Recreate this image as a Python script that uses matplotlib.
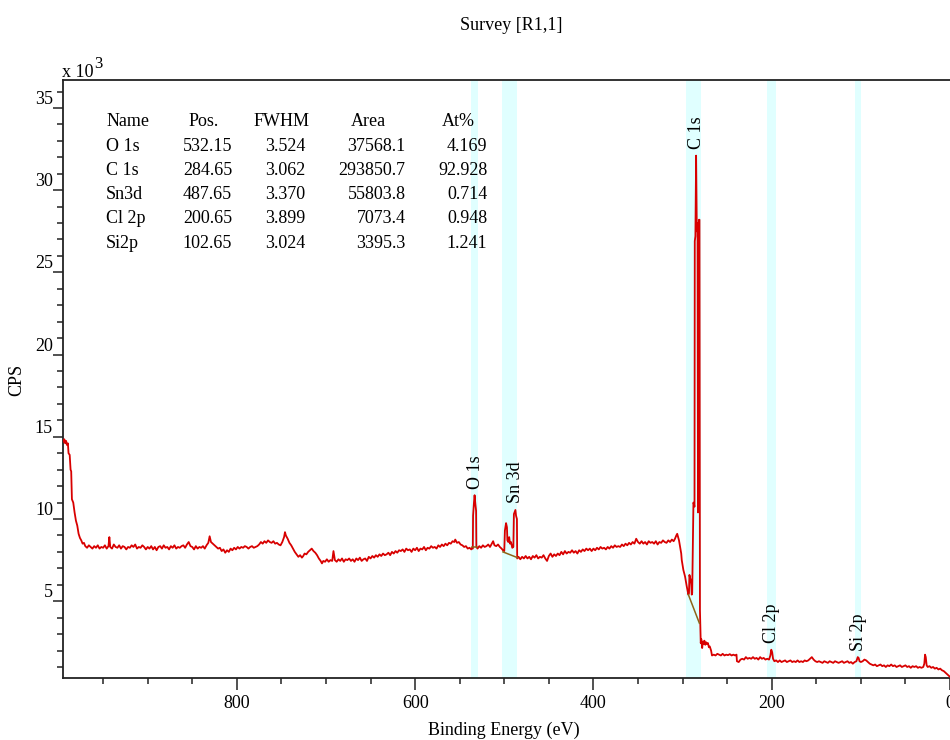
import numpy as np
import matplotlib
matplotlib.use("Agg")
import matplotlib.pyplot as plt
from matplotlib.ticker import MultipleLocator

plt.rcParams['font.family'] = ['Liberation Serif', 'DejaVu Serif']
plt.rcParams['font.size'] = 13

# Survey spectrum: (binding energy in eV, counts per second in units of 1e3)
survey = [
    (994.5, 14.7), (993.5, 14.85), (992.5, 14.6), (991.5, 14.75), (990.5, 14.5),
    (989.5, 14.6), (988.8, 14.0), (987.5, 13.9), (986.5, 13.0), (985.8, 12.9),
    (985.0, 11.2), (983.5, 11.0), (982.0, 10.4), (980.5, 9.9), (979.0, 9.6),
    (977.5, 9.1), (976.0, 8.85), (974.5, 8.7), (973.0, 8.5), (971.5, 8.55),
    (970, 8.35), (968, 8.25), (966, 8.4), (964, 8.3), (962, 8.2), (960, 8.35),
    (958, 8.25), (956, 8.4), (954, 8.2), (952, 8.3), (950, 8.25), (948, 8.4),
    (946, 8.2), (944, 8.35), (943, 8.9), (942, 8.3), (940, 8.2), (938, 8.45),
    (936, 8.3), (934, 8.25), (932, 8.4), (930, 8.2), (928, 8.35), (926, 8.3),
    (924, 8.15), (922, 8.3), (920, 8.25), (918, 8.4), (916, 8.3), (914, 8.45),
    (912, 8.2), (910, 8.3), (908, 8.25), (906, 8.4), (904, 8.3), (902, 8.15),
    (900, 8.3), (898, 8.2), (896, 8.35), (894, 8.15), (892, 8.3), (890, 8.1),
    (888, 8.3), (886, 8.35), (884, 8.2), (882, 8.4), (880, 8.25), (878, 8.3),
    (876, 8.15), (874, 8.35), (872, 8.25), (870, 8.4), (868, 8.2), (866, 8.3),
    (864, 8.25), (862, 8.35), (860, 8.4), (858, 8.25), (856, 8.45), (854, 8.6),
    (852, 8.35), (850, 8.3), (848, 8.15), (846, 8.35), (844, 8.2), (842, 8.3),
    (840, 8.25), (838, 8.35), (836, 8.2), (834, 8.4), (832, 8.55), (830.5, 8.95),
    (829, 8.6), (827, 8.5), (825, 8.4), (823, 8.3), (821, 8.2), (819, 8.25),
    (817, 8.05), (815, 8.15), (813, 7.95), (811, 8.1), (809, 8.0), (807, 8.2),
    (805, 8.1), (803, 8.25), (801, 8.15), (799, 8.3), (797, 8.2), (795, 8.3),
    (793, 8.25), (791, 8.35), (789, 8.3), (787, 8.2), (785, 8.3), (783, 8.35),
    (781, 8.25), (779, 8.3), (777, 8.35), (775, 8.45), (773, 8.6), (771, 8.5),
    (769, 8.65), (767, 8.55), (765, 8.7), (763, 8.6), (761, 8.55), (759, 8.65),
    (757, 8.5), (755, 8.55), (753, 8.45), (751, 8.4), (749, 8.6), (747, 8.9),
    (746, 9.2), (745, 9.0), (743, 8.8), (741, 8.55), (739, 8.4), (737, 8.2),
    (735, 8.0), (733, 7.85), (731, 7.7), (729, 7.8), (727, 7.65), (725.5, 7.75),
    (724, 7.9), (722, 7.85), (720, 8.0), (718, 8.1), (716, 8.2), (714, 8.05),
    (712, 7.95), (710, 7.8), (708, 7.6), (706, 7.45), (704.5, 7.3), (703, 7.45),
    (701, 7.4), (699, 7.55), (697, 7.4), (695, 7.5), (693, 7.45), (691.6, 8.05),
    (690, 7.5), (688, 7.4), (686, 7.55), (684, 7.45), (682, 7.6), (680, 7.4),
    (678, 7.55), (676, 7.5), (674, 7.6), (672, 7.45), (670, 7.55), (668, 7.4),
    (666, 7.6), (664, 7.5), (662, 7.65), (660, 7.45), (658, 7.55), (656, 7.6),
    (654, 7.45), (652, 7.7), (650, 7.6), (648, 7.75), (646, 7.65), (644, 7.8),
    (642, 7.7), (640, 7.85), (638, 7.75), (636, 7.9), (634, 7.8), (632, 7.85),
    (630, 7.95), (628, 7.8), (626, 8.0), (624, 7.9), (622, 8.05), (620, 7.95),
    (618, 8.1), (616, 8.05), (614, 8.15), (612, 8.0), (610, 8.2), (608, 8.1),
    (606, 8.15), (604, 8.0), (602, 8.2), (600, 8.1), (598, 8.25), (596, 8.05),
    (594, 8.2), (592, 8.15), (590, 8.3), (588, 8.1), (586, 8.25), (584, 8.2),
    (582, 8.35), (580, 8.25), (578, 8.3), (576, 8.2), (574, 8.4), (572, 8.3),
    (570, 8.45), (568, 8.35), (566, 8.5), (564, 8.4), (562, 8.55), (560, 8.5),
    (558, 8.65), (556, 8.6), (555, 8.75), (553, 8.55), (551, 8.6), (549, 8.45),
    (547, 8.4), (545, 8.3), (543, 8.35), (541, 8.2), (539, 8.25), (537, 8.15),
    (536.0, 8.25), (535.3, 8.2), (535.0, 10.2), (534.0, 11.0), (533.3, 11.45),
    (532.4, 10.9), (531.6, 10.5), (531.3, 8.3), (530, 8.2), (528, 8.35),
    (526, 8.25), (524, 8.4), (522, 8.3), (520, 8.35), (518, 8.45), (516, 8.3),
    (514, 8.5), (512.5, 8.65), (511, 8.4), (509, 8.35), (507, 8.45), (505, 8.3),
    (503, 8.2), (501.5, 8.1), (500, 8.05), (499.3, 9.3), (498.0, 9.75),
    (497.0, 9.5), (496.5, 8.7), (495.5, 8.6), (494.5, 8.9), (493.5, 8.5),
    (492.5, 8.6), (491, 8.25), (489.8, 8.3), (489.2, 10.3), (487.5, 10.55),
    (486.8, 10.2), (485.8, 10.0), (485.5, 7.6), (484, 7.7), (482, 7.55),
    (480, 7.7), (478, 7.6), (476, 7.75), (474, 7.6), (472, 7.7), (470, 7.55),
    (468, 7.75), (466, 7.65), (464, 7.8), (462, 7.6), (460, 7.7), (458, 7.65),
    (456, 7.8), (454, 7.6), (452, 7.45), (450, 7.75), (448, 7.9), (446, 7.7),
    (444, 7.85), (442, 7.75), (440, 7.9), (438, 7.8), (436, 8.0), (434, 7.85),
    (432, 8.05), (430, 7.9), (428, 8.0), (426, 7.95), (424, 8.1), (422, 7.95),
    (420, 8.05), (418, 7.9), (416, 8.1), (414, 8.0), (412, 8.15), (410, 8.05),
    (408, 8.2), (406, 8.1), (404, 8.2), (402, 8.05), (400, 8.2), (398, 8.1),
    (396, 8.25), (394, 8.15), (392, 8.3), (390, 8.2), (388, 8.25), (386, 8.15),
    (384, 8.3), (382, 8.2), (380, 8.35), (378, 8.25), (376, 8.4), (374, 8.3),
    (372, 8.35), (370, 8.3), (368, 8.45), (366, 8.35), (364, 8.5), (362, 8.4),
    (360, 8.55), (358, 8.45), (356, 8.6), (354, 8.5), (352, 8.8), (350, 8.6),
    (348, 8.5), (346, 8.65), (344, 8.5), (342, 8.6), (340, 8.45), (338, 8.65),
    (336, 8.55), (334, 8.6), (332, 8.5), (330, 8.65), (328, 8.45), (326, 8.6),
    (324, 8.55), (322, 8.7), (320, 8.6), (318, 8.55), (316, 8.7), (314, 8.6),
    (312, 8.75), (310, 8.65), (308.5, 8.8), (307, 9.0), (306, 9.1), (305, 8.9),
    (304, 8.7), (302.8, 8.3), (301.5, 7.9), (300.9, 7.5), (299.1, 6.9),
    (297.2, 6.5), (295.3, 5.9), (293.5, 5.4), (292.8, 5.5), (292.3, 6.6),
    (291.5, 6.4), (290.8, 6.3), (290.2, 6.0), (289.7, 5.4), (289.2, 5.5),
    (288.6, 7.8), (287.8, 11.0), (286.6, 10.75), (286.3, 26.9), (285.6, 27.2),
    (284.8, 32.1), (284.0, 27.5), (283.2, 28.0), (282.7, 10.4), (282.2, 10.5),
    (281.7, 28.2), (281.0, 28.2), (280.5, 4.45), (279.6, 2.45), (279.0, 2.7),
    (278.0, 2.15), (277.2, 2.55), (276.5, 2.4), (275.5, 2.6), (274.5, 2.35),
    (273.5, 2.5), (272.5, 2.4), (271.5, 2.45), (270.5, 2.2), (269.5, 2.25),
    (268, 2.0), (267, 1.7), (265, 1.75), (263, 1.7), (261, 1.8), (259, 1.75),
    (257, 1.7), (255, 1.8), (253, 1.7), (251, 1.75), (249, 1.72), (247, 1.78),
    (245, 1.7), (243, 1.75), (241, 1.7), (239.5, 1.75), (239, 1.35),
    (237, 1.3), (235, 1.45), (233, 1.5), (231, 1.45), (229, 1.6), (227, 1.5),
    (225, 1.55), (223, 1.5), (221, 1.6), (219, 1.5), (217, 1.55), (215, 1.45),
    (213, 1.6), (211, 1.5), (209, 1.55), (207, 1.45), (205, 1.5), (203, 1.45),
    (201.5, 1.7), (200.5, 2.05), (199.5, 1.9), (198.5, 1.5), (197, 1.35),
    (195, 1.4), (193, 1.3), (191, 1.4), (189, 1.3), (187, 1.35), (185, 1.4),
    (183, 1.3), (181, 1.35), (179, 1.4), (177, 1.3), (175, 1.35), (173, 1.3),
    (171, 1.4), (169, 1.3), (167, 1.35), (165, 1.3), (163, 1.4), (161, 1.35),
    (159, 1.4), (157, 1.5), (155, 1.6), (153, 1.45), (151, 1.35), (149, 1.3),
    (147, 1.35), (145, 1.3), (143, 1.25), (141, 1.35), (139, 1.3), (137, 1.25),
    (135, 1.35), (133, 1.3), (131, 1.25), (129, 1.35), (127, 1.3), (125, 1.25),
    (123, 1.3), (121, 1.35), (119, 1.25), (117, 1.3), (115, 1.35), (113, 1.25),
    (111, 1.3), (109, 1.2), (107, 1.3), (105, 1.35), (103.5, 1.6), (102.5, 1.55),
    (101.5, 1.35), (100, 1.3), (98, 1.35), (96, 1.45), (94, 1.4), (92, 1.3),
    (90, 1.2), (88, 1.15), (86, 1.1), (84, 1.15), (82, 1.05), (80, 1.1),
    (78, 1.15), (76, 1.05), (74, 1.1), (72, 1.0), (70, 1.1), (68, 1.05),
    (66, 1.15), (64, 1.05), (62, 1.1), (60, 1.0), (58, 1.05), (56, 1.1),
    (54, 1.0), (52, 1.05), (50, 1.1), (48, 1.0), (46, 1.05), (44, 0.95),
    (42, 1.05), (40, 1.0), (38, 1.05), (36, 0.95), (34, 1.0), (32, 0.95),
    (30, 1.0), (28.8, 1.2), (28.0, 1.75), (27.2, 1.6), (26.2, 1.1), (25, 1.0),
    (23, 1.05), (21, 0.95), (19, 1.0), (17, 0.9), (15, 0.95), (13, 0.85),
    (11, 0.9), (9, 0.8), (7, 0.75), (5, 0.65), (3, 0.55), (1, 0.45), (0, 0.4),
]

# Quantification table
comp_names = ["O 1s", "C 1s", "Sn3d", "Cl 2p", "Si2p"]
comp_pos = [532.15, 284.65, 487.65, 200.65, 102.65]
comp_fwhm = [3.524, 3.062, 3.370, 3.899, 3.024]
comp_area = [37568.1, 293850.7, 55803.8, 7073.4, 3395.3]
comp_atpct = [4.169, 92.928, 0.714, 0.948, 1.241]

# Peak annotations and integration regions (eV)
peak_labels = ["O 1s", "C 1s", "Sn 3d", "Cl 2p", "Si 2p"]
region_hi = [537.2, 296.1, 502.4, 205.2, 106.5]
region_lo = [529.3, 279.3, 485.6, 195.1, 99.8]

# Shirley backgrounds drawn under the main peaks: (start eV, start cps, end eV, end cps)
bg_lines = [
    (536.3, 8.3, 530.2, 8.3),
    (501.5, 8.0, 485.2, 7.65),
    (293.5, 5.4, 281.1, 3.66),
]

be = np.array([p[0] for p in survey])
cps = np.array([p[1] for p in survey])

fig = plt.figure(figsize=(9.5, 7.4), dpi=100)
ax = fig.add_axes([63 / 950, 62 / 740, 887 / 950, 598 / 740])

for lo, hi in zip(region_lo, region_hi):
    ax.axvspan(lo, hi, color="#e0ffff", zorder=0, lw=0)

ax.plot(be, cps, color="#d80000", lw=1.3, zorder=3)

for x0, y0, x1, y1 in bg_lines:
    ax.plot([x0, x1], [y0, y1], color="#8c6418", lw=1.1, zorder=4)

for lab, pos, lo, hi in zip(peak_labels, comp_pos, region_lo, region_hi):
    sel = (be >= lo) & (be <= hi)
    top = cps[sel].max()
    ax.text(pos, top + 0.4, lab, rotation=90, ha="center", va="bottom",
            fontsize=13, zorder=5)

ax.set_xlim(995, 0)
ax.set_ylim(0.33, 36.7)

ax.xaxis.set_major_locator(MultipleLocator(200))
ax.xaxis.set_minor_locator(MultipleLocator(50))
ax.set_yticks([5, 10, 15, 20, 25, 30, 35])
ax.yaxis.set_minor_locator(MultipleLocator(1))

ax.tick_params(axis="x", which="major", direction="out", length=8.5, width=1.1,
               pad=4, labelsize=13, color="#222222")
ax.tick_params(axis="x", which="minor", direction="out", length=4.5, width=1.1,
               color="#222222")
ax.tick_params(axis="y", which="major", direction="out", length=7.2, width=1.1,
               pad=0, labelsize=13, color="#222222")
ax.tick_params(axis="y", which="minor", direction="out", length=4.3, width=1.1,
               color="#222222")
for lbl in ax.get_yticklabels():
    lbl.set_verticalalignment("bottom")

for side in ("left", "bottom", "top"):
    ax.spines[side].set_linewidth(1.3)
    ax.spines[side].set_color("#222222")
ax.spines["right"].set_visible(False)

# Quantification table in the upper-left corner
row0 = 0.93
step = 0.0406
hdr = [("Name", 0.0485, "left"), ("Pos.", 0.159, "center"),
       ("FWHM", 0.246, "center"), ("Area", 0.344, "center"),
       ("At%", 0.4458, "center")]
for txt, xf, ha in hdr:
    ax.text(xf, row0, txt, transform=ax.transAxes, ha=ha, va="center", fontsize=13)
for i in range(len(comp_names)):
    y = row0 - step * (i + 1)
    ax.text(0.0485, y, comp_names[i], transform=ax.transAxes, ha="left", va="center", fontsize=13)
    ax.text(0.1907, y, f"{comp_pos[i]:.2f}", transform=ax.transAxes, ha="right", va="center", fontsize=13)
    ax.text(0.2731, y, f"{comp_fwhm[i]:.3f}", transform=ax.transAxes, ha="right", va="center", fontsize=13)
    ax.text(0.386, y, f"{comp_area[i]:.1f}", transform=ax.transAxes, ha="right", va="center", fontsize=13)
    ax.text(0.4786, y, f"{comp_atpct[i]:.3f}", transform=ax.transAxes, ha="right", va="center", fontsize=13)

fig.text(511 / 950, 1 - 25 / 740, "Survey [R1,1]", ha="center", va="center", fontsize=13)
fig.text(504 / 950, 1 - 730 / 740, "Binding Energy (eV)", ha="center", va="center", fontsize=13)
fig.text(17 / 950, 1 - 380 / 740, "CPS", rotation=90, ha="center", va="center", fontsize=13)
fig.text(62 / 950, 1 - 77 / 740, "x 10", ha="left", va="baseline", fontsize=13)
fig.text(94 / 950, 1 - 68 / 740, "3", ha="left", va="baseline", fontsize=12)

fig.savefig("out.png", dpi=100)
